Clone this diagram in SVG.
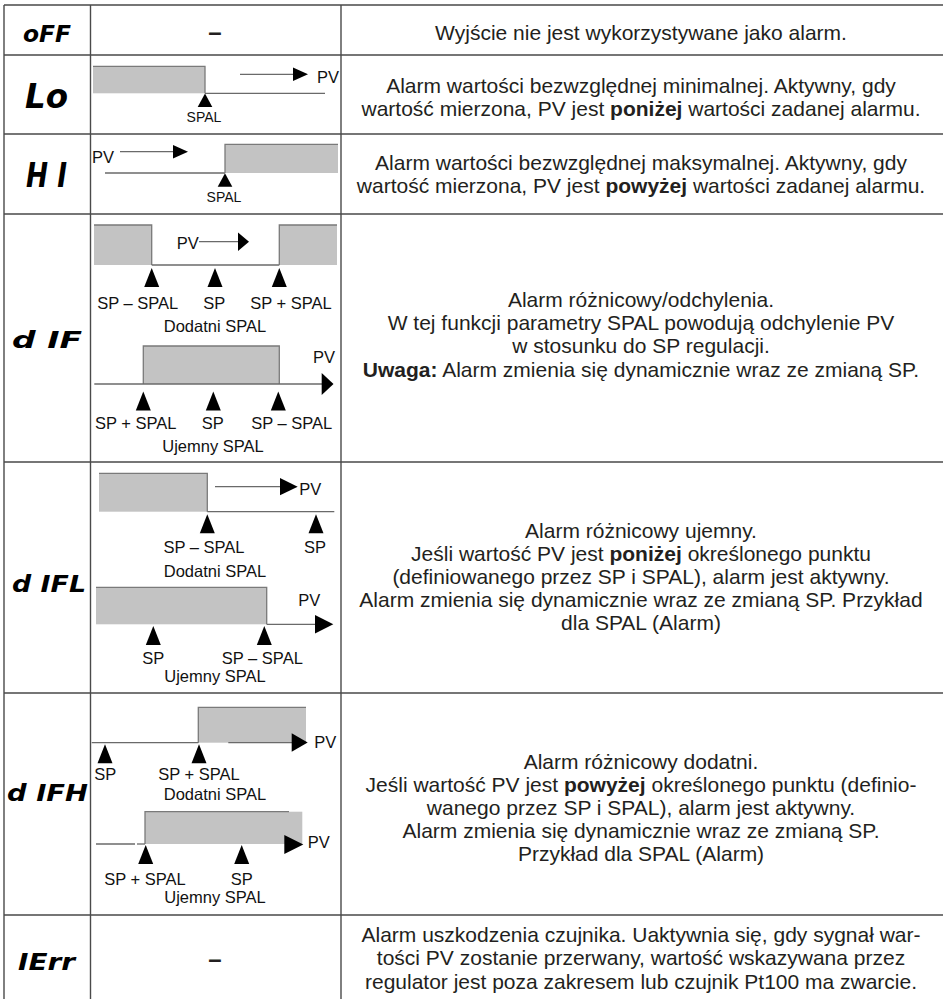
<svg xmlns="http://www.w3.org/2000/svg" xmlns:xlink="http://www.w3.org/1999/xlink" width="943" height="999" viewBox="0 0 943 999">
<style>
.grid{stroke:#4a4a4a;stroke-width:1.4;fill:none}
.bar{fill:#c3c3c3;stroke:none}
.edge{fill:none;stroke:#7a7a7a;stroke-width:1.3}
.ln{stroke:#6a6a6a;stroke-width:1.3;fill:none}
.head{fill:#000}
.code{font-family:"DejaVu Sans",sans-serif;font-weight:bold;font-style:italic;fill:#000}
.lbl{font-family:"Liberation Sans",Arial,sans-serif;font-size:16.5px;fill:#111;text-anchor:middle}
.lbs{font-family:"Liberation Sans",Arial,sans-serif;font-size:14px;fill:#111;text-anchor:middle}
.pv{font-family:"Liberation Sans",Arial,sans-serif;font-size:16.5px;fill:#111}
.desc{font-family:"Liberation Sans",Arial,sans-serif;font-size:21px;fill:#231f20;text-anchor:middle}
.dash{font-family:"Liberation Sans",Arial,sans-serif;font-size:24px;font-weight:bold;fill:#231f20;text-anchor:middle}
.b{font-weight:bold}
</style>
<defs>
<polygon id="triS" points="0,0 7.3,13.4 -7.3,13.4"/>
<polygon id="triL" points="0,0 7.5,19 -7.5,19"/>
</defs>

<g id="table">
<path class="grid" d="M4,5 H943 M4,55 H943 M4,134 H943 M4,214 H943 M4,462 H943 M4,693 H943 M4,915 H943 M4,5 V999 M90.5,5 V999 M341,5 V999"/>
</g>

<g id="row-off">
<text class="code" x="23" y="42" font-size="23" textLength="48" lengthAdjust="spacingAndGlyphs">oFF</text>
<text class="dash" x="215" y="40">–</text>
<text class="desc" x="641" y="40">Wyjście nie jest wykorzystywane jako alarm.</text>
</g>

<g id="row-lo">
<text class="code" x="25" y="108" font-size="34" textLength="43" lengthAdjust="spacingAndGlyphs">Lo</text>
<rect class="bar" x="93" y="66.3" width="112" height="27"/>
<path class="edge" d="M93,66.3 H205 V93.3"/>
<line class="ln" x1="205" y1="93.3" x2="325" y2="93.3"/>
<use xlink:href="#triS" x="205" y="93.5"/>
<text class="lbs" x="204" y="121.5">SPAL</text>
<text class="pv" x="317" y="83">PV</text>
<text class="desc" x="641" y="93">Alarm wartości bezwzględnej minimalnej. Aktywny, gdy</text>
<text class="desc" x="641" y="116">wartość mierzona, PV jest <tspan class="b">poniżej</tspan> wartości zadanej alarmu.</text>
</g>

<g id="row-hi">
<text class="code" x="26" y="187" font-size="34" textLength="41" lengthAdjust="spacingAndGlyphs">H I</text>
<text class="pv" x="92" y="163">PV</text>
<line class="ln" x1="105" y1="173" x2="225" y2="173"/>
<rect class="bar" x="225" y="144.3" width="113" height="28.7"/>
<path class="edge" d="M225,173 V144.3 H338"/>
<use xlink:href="#triS" x="225" y="173.3"/>
<text class="lbs" x="224" y="201.5">SPAL</text>
<text class="desc" x="641" y="170">Alarm wartości bezwzględnej maksymalnej. Aktywny, gdy</text>
<text class="desc" x="641" y="193">wartość mierzona, PV jest <tspan class="b">powyżej</tspan> wartości zadanej alarmu.</text>
</g>

<g id="row-dif">
<text class="code" x="12" y="348" font-size="23" textLength="70" lengthAdjust="spacingAndGlyphs">d IF</text>
<rect class="bar" x="94" y="225" width="57.7" height="40"/>
<path class="edge" d="M94,225 H151.7 V265"/>
<line class="ln" x1="151.7" y1="265" x2="279.3" y2="265"/>
<rect class="bar" x="279.3" y="225" width="57.7" height="40"/>
<path class="edge" d="M279.3,265 V225 H337"/>
<text class="pv" x="176.7" y="249">PV</text>
<use xlink:href="#triL" x="151.7" y="268"/>
<use xlink:href="#triL" x="215" y="268"/>
<use xlink:href="#triL" x="279.3" y="268"/>
<text class="lbl" x="137.7" y="308.5">SP – SPAL</text>
<text class="lbl" x="214.3" y="308.5">SP</text>
<text class="lbl" x="291" y="308.5">SP + SPAL</text>
<text class="lbl" x="215" y="331.5">Dodatni SPAL</text>
<rect class="bar" x="143.3" y="346" width="136" height="38"/>
<path class="edge" d="M143.3,384 V346 H279.3 V384"/>
<line class="ln" x1="94.3" y1="384" x2="322" y2="384"/>
<text class="pv" x="313" y="363">PV</text>
<use xlink:href="#triL" x="143.3" y="391.5"/>
<use xlink:href="#triL" x="213.3" y="391.5"/>
<use xlink:href="#triL" x="278.3" y="391.5"/>
<text class="lbl" x="135.7" y="428.5">SP + SPAL</text>
<text class="lbl" x="212.7" y="428.5">SP</text>
<text class="lbl" x="291.7" y="428.5">SP – SPAL</text>
<text class="lbl" x="213" y="451.5">Ujemny SPAL</text>
<text class="desc" x="641" y="307">Alarm różnicowy/odchylenia.</text>
<text class="desc" x="641" y="330">W tej funkcji parametry SPAL powodują odchylenie PV</text>
<text class="desc" x="641" y="353">w stosunku do SP regulacji.</text>
<text class="desc" x="641" y="377"><tspan class="b">Uwaga:</tspan> Alarm zmienia się dynamicznie wraz ze zmianą SP.</text>
</g>

<g id="row-difl">
<text class="code" x="12" y="592" font-size="23" textLength="74" lengthAdjust="spacingAndGlyphs">d IFL</text>
<rect class="bar" x="99" y="473.3" width="108.3" height="38.4"/>
<path class="edge" d="M99,473.3 H207.3 V511.7"/>
<line class="ln" x1="207.3" y1="511.7" x2="334.3" y2="511.7"/>
<text class="pv" x="299.3" y="495">PV</text>
<use xlink:href="#triL" x="207.3" y="514.3"/>
<use xlink:href="#triL" x="316" y="514.3"/>
<text class="lbl" x="204" y="553">SP – SPAL</text>
<text class="lbl" x="315" y="553">SP</text>
<text class="lbl" x="215" y="577">Dodatni SPAL</text>
<rect class="bar" x="96" y="587.3" width="170.7" height="37"/>
<path class="edge" d="M96,587.3 H266.7 V624.3"/>
<line class="ln" x1="266.7" y1="624.3" x2="316" y2="624.3"/>
<text class="pv" x="298.3" y="605.7">PV</text>
<use xlink:href="#triL" x="153.3" y="626"/>
<use xlink:href="#triL" x="264.3" y="626"/>
<text class="lbl" x="153.3" y="664">SP</text>
<text class="lbl" x="262.3" y="664">SP – SPAL</text>
<text class="lbl" x="215" y="681.5">Ujemny SPAL</text>
<text class="desc" x="641" y="538">Alarm różnicowy ujemny.</text>
<text class="desc" x="641" y="561">Jeśli wartość PV jest <tspan class="b">poniżej</tspan> określonego punktu</text>
<text class="desc" x="641" y="584">(definiowanego przez SP i SPAL), alarm jest aktywny.</text>
<text class="desc" x="641" y="607">Alarm zmienia się dynamicznie wraz ze zmianą SP. Przykład</text>
<text class="desc" x="641" y="630">dla SPAL (Alarm)</text>
</g>

<g id="row-difh">
<text class="code" x="7" y="801" font-size="23" textLength="81" lengthAdjust="spacingAndGlyphs">d IFH</text>
<rect class="bar" x="198.3" y="707.3" width="107.7" height="35.4"/>
<path class="edge" d="M198.3,742.7 V707.3 H306"/>
<line class="ln" x1="91.7" y1="742.7" x2="198.3" y2="742.7"/>
<line class="ln" x1="228.3" y1="742.7" x2="292" y2="742.7"/>
<text class="pv" x="314.3" y="747.7">PV</text>
<use xlink:href="#triL" x="105" y="744.3"/>
<use xlink:href="#triL" x="199" y="744.3"/>
<text class="pv" x="94.3" y="780">SP</text>
<text class="lbl" x="199" y="780">SP + SPAL</text>
<text class="lbl" x="215" y="800">Dodatni SPAL</text>
<rect class="bar" x="145" y="811.7" width="157.3" height="32.3"/>
<path class="edge" d="M145,844 V811.7 H289"/>
<line class="ln" x1="96" y1="844" x2="135" y2="844"/>
<line class="ln" x1="137" y1="844" x2="145" y2="844"/>
<text class="pv" x="307.7" y="847.7">PV</text>
<use xlink:href="#triL" x="145.7" y="845"/>
<use xlink:href="#triL" x="241.7" y="845"/>
<text class="lbl" x="145" y="885">SP + SPAL</text>
<text class="lbl" x="241.7" y="885">SP</text>
<text class="lbl" x="215" y="903">Ujemny SPAL</text>
<text class="desc" x="641" y="769">Alarm różnicowy dodatni.</text>
<text class="desc" x="641" y="792">Jeśli wartość PV jest <tspan class="b">powyżej</tspan> określonego punktu (definio-</text>
<text class="desc" x="641" y="815">wanego przez SP i SPAL), alarm jest aktywny.</text>
<text class="desc" x="641" y="838">Alarm zmienia się dynamicznie wraz ze zmianą SP.</text>
<text class="desc" x="641" y="861">Przykład dla SPAL (Alarm)</text>
</g>

<g id="row-ierr">
<text class="code" x="18" y="970" font-size="23" textLength="57" lengthAdjust="spacingAndGlyphs">IErr</text>
<text class="dash" x="215" y="967">–</text>
<text class="desc" x="641" y="942">Alarm uszkodzenia czujnika. Uaktywnia się, gdy sygnał war-</text>
<text class="desc" x="641" y="965">tości PV zostanie przerwany, wartość wskazywana przez</text>
<text class="desc" x="641" y="989">regulator jest poza zakresem lub czujnik Pt100 ma zwarcie.</text>
</g>

<g id="connectors">
<line class="ln" x1="240" y1="74.3" x2="294" y2="74.3"/>
<polygon class="head" points="293,67.5 308,74.3 293,81"/>
<line class="ln" x1="120" y1="151.7" x2="174" y2="151.7"/>
<polygon class="head" points="173,145 188,151.7 173,158.4"/>
<line class="ln" x1="199" y1="241.7" x2="239" y2="241.7"/>
<polygon class="head" points="238,232.5 249,241.7 238,251"/>
<polygon class="head" points="321.7,373 333.5,384 321.7,395"/>
<line class="ln" x1="215" y1="486.7" x2="281" y2="486.7"/>
<polygon class="head" points="280,478 297.7,486.7 280,495.3"/>
<polygon class="head" points="315,615 333.3,624.3 315,633.6"/>
<polygon class="head" points="291.7,733.3 307.7,742.5 291.7,751.7"/>
<polygon class="head" points="284.3,835 303.3,844.5 284.3,854"/>
</g>
</svg>
